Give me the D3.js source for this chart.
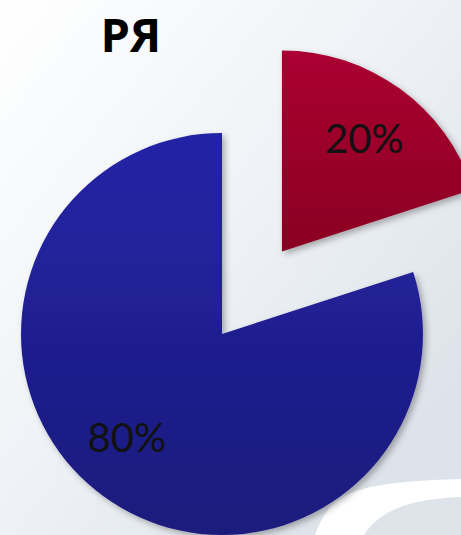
<!DOCTYPE html>
<html>
<head>
<meta charset="utf-8">
<script src="https://cdn.jsdelivr.net/npm/d3@7"></script>
<style>
  html, body { margin: 0; padding: 0; background: #ffffff; }
  svg { display: block; }
</style>
</head>
<body>
<script>
// Share of each group, in percent
const categories = ["A", "B"];
const values = [20, 80];
const labels = ["20%", "80%"];
const title = "РЯ";

const W = 461, H = 535;
const cx = 222, cy = 334, R = 201;
const explode = [102, 0];          // how far each slice is pulled out
const labelNudge = [[0, 0], [-13, -10]];

const svg = d3.select("body").append("svg")
  .attr("width", W).attr("height", H);

const defs = svg.append("defs");

// page background
const bg = defs.append("linearGradient").attr("id", "bg")
  .attr("gradientUnits", "userSpaceOnUse")
  .attr("x1", 0).attr("y1", 0).attr("x2", 461).attr("y2", 380);
bg.append("stop").attr("offset", 0).attr("stop-color", "#ffffff");
bg.append("stop").attr("offset", 0.55).attr("stop-color", "#eef2f6");
bg.append("stop").attr("offset", 0.9).attr("stop-color", "#e1e6ec");
bg.append("stop").attr("offset", 1).attr("stop-color", "#dde3ea");

const sliceColors = [["#ab0031", "#8a0022"], ["#2424a6", "#1b1a7c"]];
sliceColors.forEach((c, i) => {
  const g = defs.append("linearGradient").attr("id", "fill" + i)
    .attr("x1", 0).attr("y1", 0).attr("x2", 0).attr("y2", 1);
  g.append("stop").attr("offset", 0).attr("stop-color", c[0]);
  g.append("stop").attr("offset", 1).attr("stop-color", c[1]);
});

const shadow = defs.append("filter").attr("id", "shadow")
  .attr("x", "-20%").attr("y", "-20%").attr("width", "140%").attr("height", "140%");
shadow.append("feDropShadow")
  .attr("dx", 3).attr("dy", 3).attr("stdDeviation", 3)
  .attr("flood-color", "#000").attr("flood-opacity", 0.3);

svg.append("rect").attr("width", W).attr("height", H).attr("fill", "url(#bg)");

// decorative swoosh in the lower right corner
svg.append("path")
  .attr("d", "M315,535 C330,492 355,482 461,479 L461,535 Z")
  .attr("fill", "#ffffff");
svg.append("path")
  .attr("d", "M364,535 C380,510 410,499 461,497 L461,535 Z")
  .attr("fill", "#dfe4ea");

const pie = d3.pie().sort(null).value(d => d)
  .startAngle(0).endAngle(2 * Math.PI);
const arcs = pie(values);

const arc = d3.arc().innerRadius(0).outerRadius(R);
const labelArc = d3.arc().innerRadius(140).outerRadius(140);

const slices = svg.append("g").attr("transform", `translate(${cx},${cy})`);

const slice = slices.selectAll("g.slice").data(arcs).join("g")
  .attr("class", "slice")
  .attr("transform", (d, i) => {
    const mid = (d.startAngle + d.endAngle) / 2;
    const dx = Math.sin(mid) * explode[i];
    const dy = -Math.cos(mid) * explode[i];
    return `translate(${dx},${dy})`;
  });

slice.append("path")
  .attr("d", arc)
  .attr("fill", (d, i) => `url(#fill${i})`)
  .attr("filter", "url(#shadow)");

slice.append("text")
  .attr("transform", (d, i) => {
    const [x, y] = labelArc.centroid(d);
    return `translate(${x + labelNudge[i][0]},${y + labelNudge[i][1]})`;
  })
  .attr("text-anchor", "middle")
  .attr("dominant-baseline", "central")
  .attr("font-family", "Lato, 'Open Sans', sans-serif")
  .attr("font-size", 40)
  .attr("fill", "#111111")
  .text((d, i) => labels[i]);

svg.append("text")
  .attr("x", 131).attr("y", 52)
  .attr("text-anchor", "middle")
  .attr("font-family", "'Open Sans', 'Noto Sans', sans-serif")
  .attr("font-weight", 700)
  .attr("font-size", 47)
  .attr("fill", "#000000")
  .text(title);
</script>
</body>
</html>
